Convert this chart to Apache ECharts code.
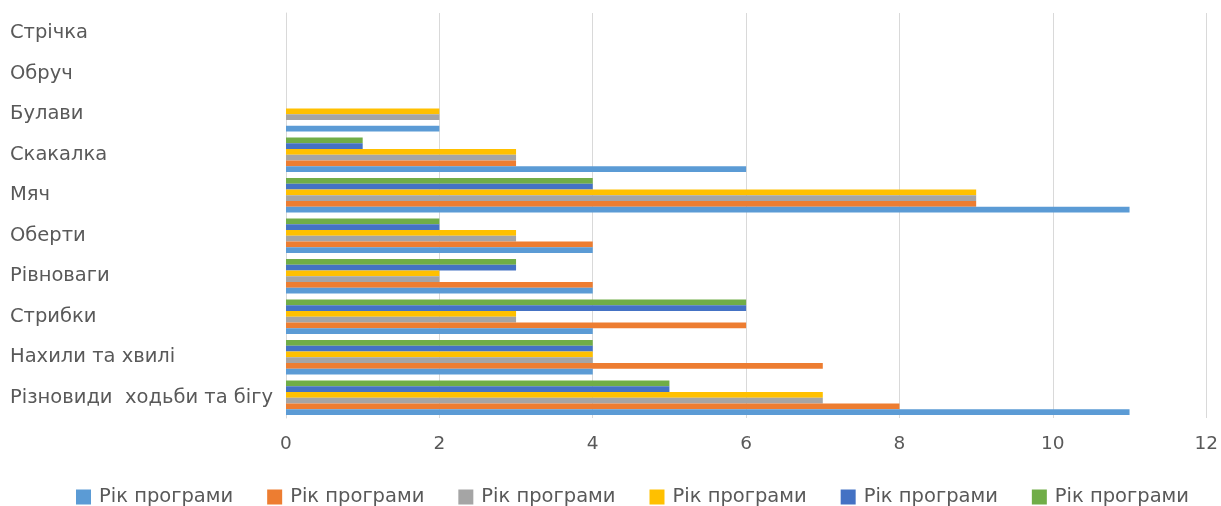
<!DOCTYPE html>
<html>
<head>
<meta charset="utf-8">
<script src="https://cdn.jsdelivr.net/npm/echarts@6/dist/echarts.min.js"></script>
<style>
  html, body { margin: 0; padding: 0; background: #fff; }
  #chart { width: 1221px; height: 506px; }
</style>
</head>
<body>
<div id="chart"></div>
<script>
// Exercise categories, listed bottom to top along the vertical axis
const categories = [
  'Різновиди  ходьби та бігу',
  'Нахили та хвилі',
  'Стрибки',
  'Рівноваги',
  'Оберти',
  'Мяч',
  'Скакалка',
  'Булави',
  'Обруч',
  'Стрічка'
];

const legendLabel = 'Рік програми';

// One array per programme year, values follow the category order above
const year1 = [11, 4, 4, 4, 4, 11, 6, 2, 0, 0];
const year2 = [8, 7, 6, 4, 4, 9, 3, 0, 0, 0];
const year3 = [7, 4, 3, 2, 3, 9, 3, 2, 0, 0];
const year4 = [7, 4, 3, 2, 3, 9, 3, 2, 0, 0];
const year5 = [5, 4, 6, 3, 2, 4, 1, 0, 0, 0];
const year6 = [5, 4, 6, 3, 2, 4, 1, 0, 0, 0];

const xTicks = { min: 0, max: 12, interval: 2 };

const palette = ['#5B9BD5', '#ED7D31', '#A5A5A5', '#FFC000', '#4472C4', '#70AD47'];
const yearValues = [year1, year2, year3, year4, year5, year6];
const seriesIds = yearValues.map((_, i) => legendLabel + ' ' + (i + 1));

const textColor = '#595959';
const fontFamily = '"DejaVu Sans", "Open Sans", sans-serif';
const labelSize = 19.5;
const tickSize = 18.5;

// ECharts stacks grouped horizontal bars from the top down, so the years are
// added last-first to keep year 1 at the bottom of each group.
const barSeries = yearValues.map((vals, i) => ({
  name: seriesIds[i],
  type: 'bar',
  data: vals,
  barGap: '0%',
  barCategoryGap: '15%',
  itemStyle: { color: palette[i] }
})).reverse();

const chart = echarts.init(document.getElementById('chart'));

chart.setOption({
  animation: false,
  grid: { left: 286, right: 14, top: 13, bottom: 88, containLabel: false },
  legend: {
    data: seriesIds,
    top: 487,
    left: 76,
    padding: 0,
    itemWidth: 15,
    itemHeight: 15,
    itemGap: 34,
    icon: 'rect',
    formatter: () => legendLabel,
    textStyle: { color: textColor, fontSize: labelSize, fontFamily: fontFamily, padding: [0, 0, 0, 3] }
  },
  xAxis: {
    type: 'value',
    min: xTicks.min,
    max: xTicks.max,
    interval: xTicks.interval,
    axisLine: { show: false },
    axisTick: { show: false },
    splitLine: { lineStyle: { color: '#D9D9D9', width: 1 } },
    axisLabel: { color: textColor, fontSize: tickSize, fontFamily: fontFamily, margin: 17 }
  },
  yAxis: {
    type: 'category',
    data: categories,
    axisLine: { show: true, lineStyle: { color: '#D9D9D9' } },
    axisTick: { show: false },
    axisLabel: {
      color: textColor,
      fontSize: labelSize,
      fontFamily: fontFamily,
      align: 'left',
      margin: 276,
      padding: [5, 0, 0, 0]
    }
  },
  series: barSeries
});
</script>
</body>
</html>
